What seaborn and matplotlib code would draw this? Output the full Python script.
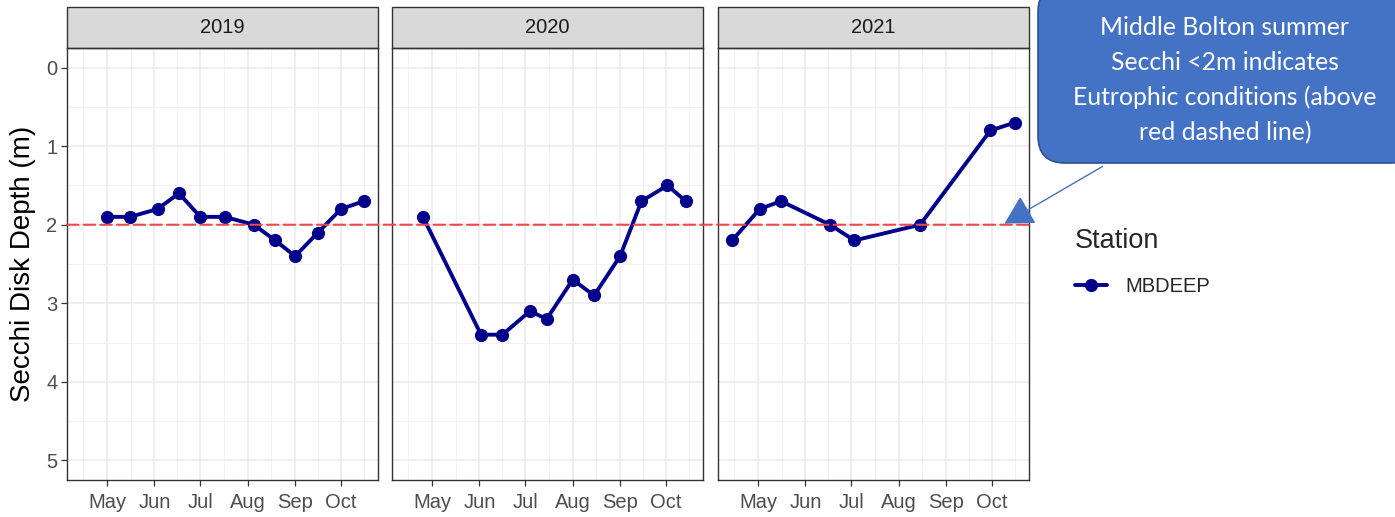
import pandas as pd
import seaborn as sns
import matplotlib.pyplot as plt
import matplotlib.dates as mdates
import numpy as np
from matplotlib.patches import Rectangle, FancyBboxPatch, FancyArrowPatch, ConnectionPatch

# Set seaborn theme, then fonts (set_theme resets font.family)
sns.set_theme(style="white")
plt.rcParams['font.family'] = ['Liberation Sans', 'DejaVu Sans']

# Secchi disk depth (m) at station MBDEEP, per sampling date (month-day)
years = ["2019", "2020", "2021"]
station = "MBDEEP"
dates_2019 = ["05-01", "05-16", "06-03", "06-17", "07-01", "07-17", "08-05", "08-19", "09-01", "09-16", "10-01", "10-16"]
depth_2019 = [1.9, 1.9, 1.8, 1.6, 1.9, 1.9, 2.0, 2.2, 2.4, 2.1, 1.8, 1.7]
dates_2020 = ["04-25", "06-02", "06-16", "07-04", "07-15", "08-01", "08-15", "09-01", "09-15", "10-02", "10-14"]
depth_2020 = [1.9, 3.4, 3.4, 3.1, 3.2, 2.7, 2.9, 2.4, 1.7, 1.5, 1.7]
dates_2021 = ["04-14", "05-02", "05-16", "06-17", "07-03", "08-15", "09-30", "10-16"]
depth_2021 = [2.2, 1.8, 1.7, 2.0, 2.2, 2.0, 0.8, 0.7]
month_labels = ["May", "Jun", "Jul", "Aug", "Sep", "Oct"]
eutrophic_limit = 2
note = "Middle Bolton summer\nSecchi <2m indicates\nEutrophic conditions (above\nred dashed line)"

frames = []
for yr, d, v in zip(years, [dates_2019, dates_2020, dates_2021], [depth_2019, depth_2020, depth_2021]):
    # put every year on a common calendar so the facets share one x scale
    frames.append(pd.DataFrame({"Year": yr, "Station": station,
                                "Date": pd.to_datetime(["2000-" + s for s in d]),
                                "Depth": v}))
df = pd.concat(frames, ignore_index=True)

# x range with ggplot-like 5% expansion
xmin = mdates.date2num(df.Date.min())
xmax = mdates.date2num(df.Date.max())
pad = (xmax - xmin) * 0.05
xlim = (xmin - pad, xmax + pad)
majors = [mdates.date2num(pd.Timestamp("2000-%02d-01" % m)) for m in range(5, 11)]
minors = [majors[0] - (majors[1] - majors[0]) / 2] + \
         [(a + b) / 2 for a, b in zip(majors[:-1], majors[1:])] + \
         [majors[-1] + (majors[-1] - majors[-2]) / 2]

fig = plt.figure(figsize=(13.95, 5.17), dpi=100)
W, H = 1395, 517
lefts = [67, 392, 718]
axes = []
grey20 = "#333333"
for i, yr in enumerate(years):
    ax = fig.add_axes([lefts[i] / W, 37 / H, 311 / W, 432 / H])
    axes.append(ax)
    sub = df[df.Year == yr]
    sns.lineplot(data=sub, x="Date", y="Depth", hue="Station", palette=["#00008B"],
                 marker="o", markersize=9.5, markeredgewidth=0, linewidth=2.8,
                 legend=(i == 2), ax=ax, zorder=3)
    ax.set_xlim(xlim)
    ax.set_ylim(5.25, -0.25)
    ax.set_xticks(majors)
    ax.set_xticklabels(month_labels)
    ax.set_xticks(minors, minor=True)
    ax.set_yticks(range(0, 6))
    ax.set_yticks(np.arange(0.5, 5, 1), minor=True)
    ax.grid(which="major", color="#EBEBEB", linewidth=1.1)
    ax.grid(which="minor", color="#F2F2F2", linewidth=0.7)
    ax.set_axisbelow(True)
    for s in ax.spines.values():
        s.set_color(grey20)
        s.set_linewidth(1.0)
    ax.tick_params(axis="both", which="major", length=4, width=0.9, color=grey20,
                   labelsize=14.5, labelcolor="#4D4D4D", pad=3, bottom=True, left=(i == 0))
    ax.tick_params(axis="x", which="major", pad=5.5)
    ax.tick_params(which="minor", length=0)
    if i > 0:
        ax.set_yticklabels([])
        ax.set_ylabel("")
    ax.set_xlabel("")
    # facet strip
    sh = 41 / 432
    ax.add_patch(Rectangle((0, 1), 1, sh, transform=ax.transAxes, clip_on=False,
                           facecolor="#D9D9D9", edgecolor=grey20, linewidth=1.0))
    ax.text(0.5, 1 + sh / 2, yr, transform=ax.transAxes, ha="center", va="center",
            fontsize=14.5, color="#1A1A1A")

axes[0].set_ylabel("Secchi Disk Depth (m)", fontsize=20, color="black", labelpad=7)

# red dashed eutrophic threshold, running across all three panels
thr = ConnectionPatch(xyA=(xlim[0], eutrophic_limit), coordsA=axes[0].transData,
                      xyB=(xlim[1], eutrophic_limit), coordsB=axes[2].transData,
                      color="#F04848", linewidth=1.5, linestyle=(0, (5.5, 2.5)), zorder=5)
fig.add_artist(thr)

# legend
sns.move_legend(axes[2], "upper left", bbox_to_anchor=(1057 / W, 1 - 210 / H),
                bbox_transform=fig.transFigure, frameon=False, title="Station",
                fontsize=14.5, title_fontsize=19.5, handlelength=1.6,
                handletextpad=0.9, alignment="left", labelspacing=1.15)

# callout box
box = FancyBboxPatch((10.38, 3.54), 3.8, 1.78, boxstyle="round,pad=0,rounding_size=0.27",
                     transform=fig.dpi_scale_trans, facecolor="#4472C4",
                     edgecolor="#2F528F", linewidth=1.2, clip_on=False)
fig.add_artist(box)
fig.text(1225 / W, 1 - 80 / H, note, ha="center", va="center", color="white",
         fontsize=17.8, family=["Lato", "DejaVu Sans"], linespacing=1.6)
arrow = FancyArrowPatch((11.05, 3.52), (10.02, 2.92), transform=fig.dpi_scale_trans,
                        arrowstyle="-|>,head_length=0.9,head_width=0.5", mutation_scale=20,
                        color="#4472C4", linewidth=1.0)
fig.add_artist(arrow)

fig.savefig("out.png", dpi=100)
plt.close()
